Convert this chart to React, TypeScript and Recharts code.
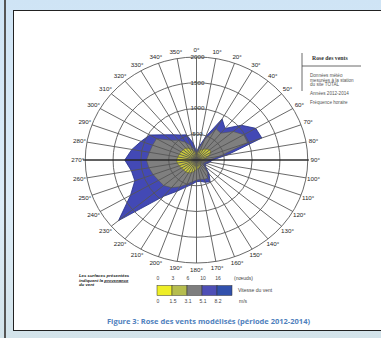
import React from "react";
import { RadarChart, Radar, PolarGrid, PolarAngleAxis, PolarRadiusAxis } from "recharts";

// directions (degrés) and cumulated hourly frequencies per speed class
const directions = [0, 10, 20, 30, 40, 50, 60, 70, 80, 90, 100, 110, 120, 130, 140, 150, 160, 170,
  180, 190, 200, 210, 220, 230, 240, 250, 260, 270, 280, 290, 300, 310, 320, 330, 340, 350];

// vent < 3.1 m/s
const ventFaible = [100, 150, 200, 240, 280, 310, 300, 240, 150, 110, 90, 80, 80, 90, 110, 140, 160, 170,
  180, 220, 260, 290, 300, 300, 310, 330, 350, 360, 340, 330, 320, 310, 300, 260, 200, 150];
// vent < 5.1 m/s
const ventModere = [130, 200, 420, 700, 680, 860, 980, 980, 420, 230, 180, 150, 140, 180, 300, 410, 400, 380,
  390, 430, 500, 600, 700, 770, 790, 830, 870, 900, 860, 840, 830, 600, 500, 400, 300, 200];
// toutes vitesses
const ventTotal = [160, 260, 480, 920, 800, 1050, 1230, 1250, 560, 290, 240, 200, 180, 220, 350, 490, 460, 420,
  420, 480, 560, 700, 920, 1830, 1370, 1180, 1190, 1290, 1180, 1060, 970, 760, 640, 560, 520, 330];

const legendKnots = ["0", "3", "6", "10", "16"];
const legendMs = ["0", "1.5", "3.1", "5.1", "8.2"];
const legendColors = ["#eeee26", "#b6bd4e", "#7e7e7e", "#4e4fb6", "#3150ac"];
const notes = ["Données météo", "mesurées à la station", "du site TOTAL"];

const data = directions.map((d, i) => ({
  dir: `${d}°`,
  faible: ventFaible[i],
  modere: ventModere[i],
  total: ventTotal[i],
}));

const CX = 196.5;
const CY = 160;
const R = 103;
const font = "'Liberation Sans Narrow', 'Liberation Sans', Arial, sans-serif";

const AngleTick = (props: any) => {
  const a = (-props.payload.coordinate * Math.PI) / 180;
  const x = CX + Math.cos(a) * (R + 7);
  const y = CY + Math.sin(a) * (R + 7);
  return (
    <text x={x} y={y} textAnchor="middle" dominantBaseline="central" fontSize={5.8} fill="#262626" fontFamily={font}>
      {props.payload.value}
    </text>
  );
};

const RadiusTick = (props: any) => {
  if (!props.payload.value) return <g />;
  return (
    <text x={props.x + 1} y={props.y} textAnchor="middle" dominantBaseline="central" fontSize={5.8} fill="#2a2a2a"
      fontFamily={font} stroke="#fff" strokeWidth={1.5} paintOrder="stroke">
      {props.payload.value}
    </text>
  );
};

export default function App() {
  return (
    <div style={{ position: "absolute", left: 0, top: 0, width: 381, height: 338, overflow: "hidden",
      background: "linear-gradient(180deg, #cfe4f5 0%, #dcecf8 60%, #d3e3ea 100%)" }}>
      <div style={{ position: "absolute", left: 4, top: 0, width: 1.5, height: 338, background: "#555" }} />
      <div style={{ position: "absolute", left: 13, top: 10, width: 380, height: 321, background: "#fff",
        border: "1.5px solid #222", boxSizing: "border-box" }} />
      <div style={{ position: "absolute", left: 0, top: 0, width: 381, height: 338,
        transform: "scaleX(1.08)", transformOrigin: `${CX}px ${CY}px` }}>
        <RadarChart width={381} height={338} data={data} cx={CX} cy={CY} outerRadius={R}
          margin={{ top: 0, right: 0, bottom: 0, left: 0 }}>
          <Radar dataKey="total" fill="#4349b5" fillOpacity={1} stroke="#26308a" strokeWidth={0.8} isAnimationActive={false} />
          <Radar dataKey="modere" fill="#7f7f7f" fillOpacity={1} stroke="#555" strokeWidth={0.6} isAnimationActive={false} />
          <Radar dataKey="faible" fill="#c8c83c" fillOpacity={1} stroke="#6b6b20" strokeWidth={0.6} isAnimationActive={false} />
          <PolarGrid gridType="circle" stroke="#555" strokeWidth={0.85} zIndex={700} />
          <PolarAngleAxis dataKey="dir" axisLine={false} tickLine={false} tick={AngleTick} />
          <PolarRadiusAxis angle={90} domain={[0, 2000]} tickCount={5} axisLine={false} tickLine={false} tick={RadiusTick} />
        </RadarChart>
      </div>
      <svg width={381} height={338} style={{ position: "absolute", left: 0, top: 0 }}>
        <line x1={83} y1={CY} x2={309} y2={CY} stroke="#111" strokeWidth={1} />

        <line x1={302} y1={53} x2={302} y2={91} stroke="#444" strokeWidth={0.8} />
        <line x1={302} y1={66} x2={361} y2={66} stroke="#444" strokeWidth={0.8} />
        <text x={312} y={60} fontSize={5.8} fontWeight="bold" fill="#333" fontFamily="'Liberation Serif', serif">Rose des vents</text>
        {notes.map((n, i) => (
          <text key={n} x={310} y={77 + i * 4.5} fontSize={4.6} fill="#555" fontFamily={font}>{n}</text>
        ))}
        <text x={310} y={95} fontSize={4.6} fill="#555" fontFamily={font}>Années 2012-2014</text>
        <text x={310} y={104} fontSize={4.6} fill="#555" fontFamily={font}>Fréquence horaire</text>

        <text x={79} y={277} fontSize={4.3} fontWeight="bold" fontStyle="italic" fill="#222" fontFamily={font}>Les surfaces présentées</text>
        <text x={79} y={281.5} fontSize={4.3} fontWeight="bold" fontStyle="italic" fill="#222" fontFamily={font}>
          indiquent la <tspan textDecoration="underline">provenance</tspan>
        </text>
        <text x={79} y={286} fontSize={4.3} fontWeight="bold" fontStyle="italic" fill="#222" fontFamily={font}>du vent</text>

        {legendKnots.map((k, i) => (
          <text key={"k" + i} x={158 + i * 15} y={279.5} textAnchor="middle" fontSize={5} fill="#444" fontFamily={font}>{k}</text>
        ))}
        <text x={234} y={279.5} fontSize={5} fill="#444" fontFamily={font}>(nœuds)</text>
        {legendColors.map((c, i) => (
          <rect key={c} x={157 + i * 15} y={285.5} width={15} height={10} fill={c} stroke="#333" strokeWidth={0.5} />
        ))}
        <text x={238} y={292} fontSize={5} fill="#444" fontFamily={font}>Vitesse du vent</text>
        {legendMs.map((k, i) => (
          <text key={"m" + i} x={158 + i * 15} y={303} textAnchor="middle" fontSize={5} fill="#444" fontFamily={font}>{k}</text>
        ))}
        <text x={239} y={303} fontSize={5} fill="#444" fontFamily={font}>m/s</text>

        <text x={107} y={324} fontSize={6.8} fontWeight="bold" fill="#4f81bd" fontFamily="'Open Sans', sans-serif"
          textLength={203} lengthAdjust="spacingAndGlyphs">
          Figure 3: Rose des vents modélisés (période 2012-2014)
        </text>
      </svg>
    </div>
  );
}
